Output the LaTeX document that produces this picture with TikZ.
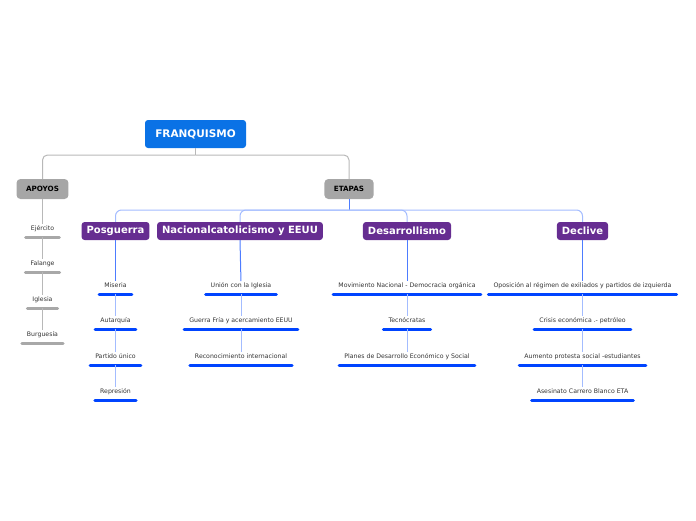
\documentclass[tikz,border=0pt]{standalone}
\usepackage{fontspec}
\setmainfont{DejaVu Sans}
\definecolor{rootblue}{HTML}{0A72E6}
\definecolor{boxgray}{HTML}{A6A6A6}
\definecolor{linegray}{HTML}{B8B8B8}
\definecolor{stagepurple}{HTML}{662D91}
\definecolor{ublue}{HTML}{0044FF}
\definecolor{darkconn}{HTML}{4D7CFF}
\definecolor{lightconn}{HTML}{A3BCFF}
\definecolor{leaftext}{HTML}{333333}
\definecolor{ugray}{HTML}{A8A8A8}
\begin{document}
\begin{tikzpicture}[x=1pt,y=-1pt,
  root/.style={fill=rootblue, rounded corners=3, text=white, font=\bfseries\fontsize{10.5}{12}\selectfont, minimum width=101, minimum height=28, inner sep=0},
  midbox/.style={fill=boxgray, rounded corners=4, text=black, font=\bfseries\fontsize{7.2}{8}\selectfont, minimum height=20, inner xsep=9.5, inner ysep=0},
  stage/.style={fill=stagepurple, rounded corners=3, text=white, font=\bfseries\fontsize{10}{12}\selectfont, minimum height=18, inner xsep=5, inner ysep=0},
  leaf/.style={font=\fontsize{6.2}{7}\selectfont, text=leaftext, anchor=south, inner xsep=5, inner ysep=0, text height=5, text depth=6},
  bline/.style={ublue, line width=3, line cap=round},
  gbar/.style={ugray, line width=3, line cap=round},
  gline/.style={linegray, line width=1},
  dconn/.style={darkconn, line width=1},
  lconn/.style={lightconn, line width=1},
  tochild/.style={shorten >=1.5},
]
\useasboundingbox (0,0) rectangle (696,520);

% root and level 1
\node[root] (root) at (195.5,134) {FRANQUISMO};
\node[midbox] (apoyos) at (42.5,189) {APOYOS};
\node[midbox] (etapas) at (349,189) {ETAPAS};
\coordinate (h1) at (195.5,155);
\draw[gline] (root.south) -- (h1);
\draw[gline, rounded corners=5] (h1) -| (apoyos.north);
\draw[gline, rounded corners=5] (h1) -| (etapas.north);

% apoyos leaves
\node[leaf] (a1) at (42.5,237) {Ejército};
\node[leaf] (a2) at (42.5,272) {Falange};
\node[leaf] (a3) at (42.5,308) {Iglesia};
\node[leaf] (a4) at (42.5,343) {Burguesía};
\foreach \n in {a1,a2,a3,a4} \draw[gbar] (\n.south west) -- (\n.south east);
\draw[gline,tochild] (apoyos.south) -- (a1.north);
\draw[gline,tochild] (a1.south) -- (a2.north);
\draw[gline,tochild] (a2.south) -- (a3.north);
\draw[gline,tochild] (a3.south) -- (a4.north);

% stages
\node[stage] (s1) at (115.5,231) {Posguerra};
\node[stage] (s2) at (240,231) {Nacionalcatolicismo y EEUU};
\node[stage] (s3) at (407,231) {Desarrollismo};
\node[stage] (s4) at (582.5,231) {Declive};
\coordinate (h2) at (349,210);
\draw[dconn] (etapas.south) -- (h2);
\foreach \s in {s1,s2,s3,s4} \draw[lconn, rounded corners=6] (h2) -| (\s.north);

% Posguerra leaves
\node[leaf] (p1) at (115.5,294) {Miseria};
\node[leaf] (p2) at (115.5,329) {Autarquía};
\node[leaf] (p3) at (115.5,365) {Partido único};
\node[leaf] (p4) at (115.5,400) {Represión};
% Nacionalcatolicismo leaves
\node[leaf] (n1) at (241,294) {Unión con la Iglesia};
\node[leaf] (n2) at (241,329) {Guerra Fría y acercamiento EEUU};
\node[leaf] (n3) at (241,365) {Reconocimiento internacional};
% Desarrollismo leaves
\node[leaf] (d1) at (407,294) {Movimiento Nacional - Democracia orgánica};
\node[leaf] (d2) at (407,329) {Tecnócratas};
\node[leaf] (d3) at (407,365) {Planes de Desarrollo Económico y Social};
% Declive leaves
\node[leaf] (c1) at (582.5,294) {Oposición al régimen de exiliados y partidos de izquierda};
\node[leaf] (c2) at (582.5,329) {Crisis económica .- petróleo};
\node[leaf] (c3) at (582.5,365) {Aumento protesta social -estudiantes};
\node[leaf] (c4) at (582.5,400) {Asesinato Carrero Blanco ETA};

\foreach \n in {p1,p2,p3,p4,n1,n2,n3,d1,d2,d3,c1,c2,c3,c4}
  \draw[bline] (\n.south west) -- (\n.south east);

\draw[dconn,tochild] (s1.south) -- (p1.north);
\draw[lconn,tochild] (p1.south) -- (p2.north);
\draw[lconn,tochild] (p2.south) -- (p3.north);
\draw[lconn,tochild] (p3.south) -- (p4.north);
\draw[dconn,tochild] (s2.south) -- (n1.north);
\draw[lconn,tochild] (n1.south) -- (n2.north);
\draw[lconn,tochild] (n2.south) -- (n3.north);
\draw[dconn,tochild] (s3.south) -- (d1.north);
\draw[lconn,tochild] (d1.south) -- (d2.north);
\draw[lconn,tochild] (d2.south) -- (d3.north);
\draw[dconn,tochild] (s4.south) -- (c1.north);
\draw[lconn,tochild] (c1.south) -- (c2.north);
\draw[lconn,tochild] (c2.south) -- (c3.north);
\draw[lconn,tochild] (c3.south) -- (c4.north);
\end{tikzpicture}
\end{document}
